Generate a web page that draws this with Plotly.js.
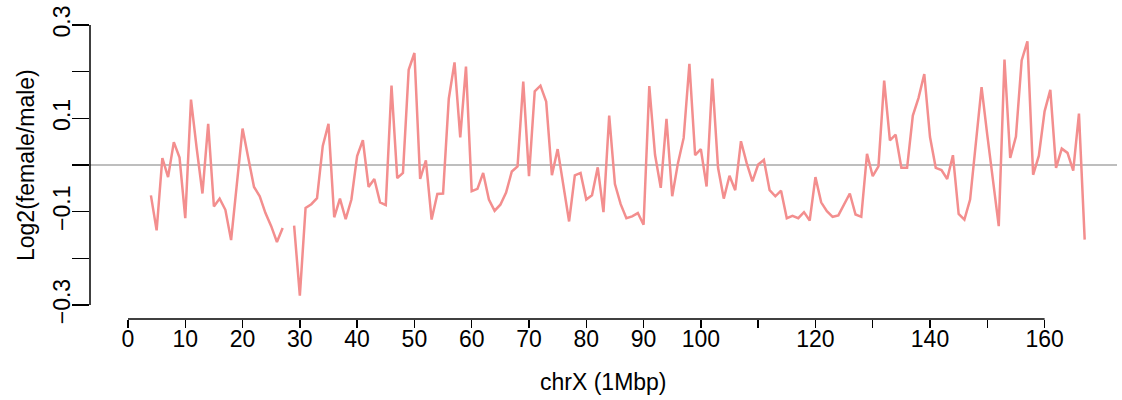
<!DOCTYPE html>
<html>
<head>
<meta charset="utf-8">
<script src="https://cdn.plot.ly/plotly-3.0.1.min.js"></script>
<style>html,body{margin:0;padding:0;background:#fff;}#chart{width:1122px;height:400px;}</style>
</head>
<body>
<div id="chart"></div>
<script>
// Bin position on chrX (Mbp)
const binMbp = [4,5,6,7,8,9,10,11,12,13,14,15,16,17,18,19,20,21,22,23,24,25,26,27,28,29,
  30,31,32,33,34,35,36,37,38,39,40,41,42,43,44,45,46,47,48,49,50,51,52,53,54,55,56,57,58,59,
  60,61,62,63,64,65,66,67,68,69,70,71,72,73,74,75,76,77,78,79,80,81,82,83,84,85,86,87,88,89,
  90,91,92,93,94,95,96,97,98,99,100,101,102,103,104,105,106,107,108,109,110,111,112,113,114,
  115,116,117,118,119,120,121,122,123,124,125,126,127,128,129,130,131,132,133,134,135,136,137,
  138,139,140,141,142,143,144,145,146,147,148,149,150,151,152,153,154,155,156,157,158,159,160,
  161,162,163,164,165,166,167];
// Log2(female/male) per bin (null = no data)
const log2Ratio = [-0.065,-0.140,0.015,-0.026,0.049,0.016,-0.114,0.140,0.035,-0.061,0.088,-0.089,
  -0.072,-0.096,-0.161,-0.040,0.078,0.015,-0.047,-0.067,-0.103,-0.131,-0.165,-0.135,null,-0.130,
  -0.280,-0.092,-0.084,-0.071,0.041,0.088,-0.112,-0.072,-0.116,-0.074,0.019,0.053,-0.047,-0.030,
  -0.080,-0.086,0.170,-0.028,-0.017,0.204,0.240,-0.030,0.010,-0.117,-0.062,-0.061,0.142,0.220,
  0.059,0.211,-0.056,-0.051,-0.017,-0.074,-0.098,-0.085,-0.059,-0.014,-0.003,0.179,-0.024,0.158,
  0.170,0.136,-0.022,0.034,-0.044,-0.121,-0.022,-0.017,-0.074,-0.065,-0.005,-0.101,0.106,-0.041,
  -0.084,-0.114,-0.110,-0.103,-0.128,0.169,0.022,-0.049,0.099,-0.067,0.004,0.058,0.217,0.021,
  0.034,-0.046,0.185,-0.006,-0.072,-0.023,-0.054,0.051,0.004,-0.035,0.001,0.011,-0.054,-0.067,
  -0.055,-0.114,-0.109,-0.114,-0.101,-0.119,-0.026,-0.080,-0.099,-0.111,-0.108,-0.085,-0.061,
  -0.106,-0.111,0.024,-0.024,-0.003,0.181,0.053,0.065,-0.006,-0.006,0.106,0.144,0.195,0.060,
  -0.006,-0.011,-0.030,0.021,-0.105,-0.117,-0.074,0.045,0.167,0.064,-0.034,-0.131,0.226,0.015,
  0.061,0.224,0.265,-0.021,0.020,0.115,0.161,-0.006,0.035,0.026,-0.012,0.110,-0.160];

const xTickVals = [0,10,20,30,40,50,60,70,80,90,100,110,120,130,140,150,160];
const xTickText = ['0','10','20','30','40','50','60','70','80','90','100','','120','','140','','160'];
const yTickVals = [-0.3,-0.2,-0.1,0,0.1,0.2,0.3];
const yTickText = ['\u22120.3','','\u22120.1','','0.1','','0.3'];
const xTitle = 'chrX (1Mbp)';
const yTitle = 'Log2(female/male)';

const FONT = {family: 'Liberation Sans, Arial, Helvetica, sans-serif', size: 23, color: '#000'};

const trace = {
  x: binMbp, y: log2Ratio, type: 'scatter', mode: 'lines',
  line: {color: '#F38E8E', width: 2.5}, connectgaps: false, hoverinfo: 'skip'
};

const layout = {
  width: 1122, height: 400,
  margin: {l: 90, r: 5, t: 11, b: 81},
  paper_bgcolor: '#fff', plot_bgcolor: '#fff',
  showlegend: false,
  font: FONT,
  xaxis: {
    range: [-6.63, 172.64], showgrid: false, zeroline: false, showline: false,
    tickmode: 'array', tickvals: xTickVals, ticktext: xTickText,
    ticks: 'outside', ticklen: 8, tickwidth: 1.5, tickcolor: '#000',
    tickfont: FONT, tickangle: 0, ticklabelstandoff: -9
  },
  yaxis: {
    range: [-0.33, 0.33], showgrid: false, zeroline: false, showline: false,
    tickmode: 'array', tickvals: yTickVals, ticktext: yTickText,
    ticks: 'outside', ticklen: 17, tickwidth: 1.5, tickcolor: '#000',
    tickfont: FONT, tickangle: -90, ticklabelstandoff: -7
  },
  shapes: [
    {type: 'line', xref: 'paper', yref: 'y', x0: 0, x1: 1, y0: 0, y1: 0,
     line: {color: '#BEBEBE', width: 2}, layer: 'below'},
    {type: 'line', xref: 'x', yref: 'paper', x0: 0, x1: 160, y0: 0, y1: 0,
     line: {color: '#000', width: 1.5}},
    {type: 'line', xref: 'paper', yref: 'y', x0: 0, x1: 0, y0: -0.3, y1: 0.3,
     line: {color: '#000', width: 1.5}}
  ],
  annotations: [
    {text: xTitle, xref: 'paper', yref: 'paper', x: 0.5, y: -0.2045,
     xanchor: 'center', yanchor: 'middle', showarrow: false, font: FONT},
    {text: yTitle, xref: 'paper', yref: 'paper', x: -0.0623, y: 0.5,
     xanchor: 'center', yanchor: 'middle', textangle: -90, showarrow: false, font: FONT}
  ]
};

Plotly.newPlot('chart', [trace], layout, {displayModeBar: false, staticPlot: true});
</script>
</body>
</html>
